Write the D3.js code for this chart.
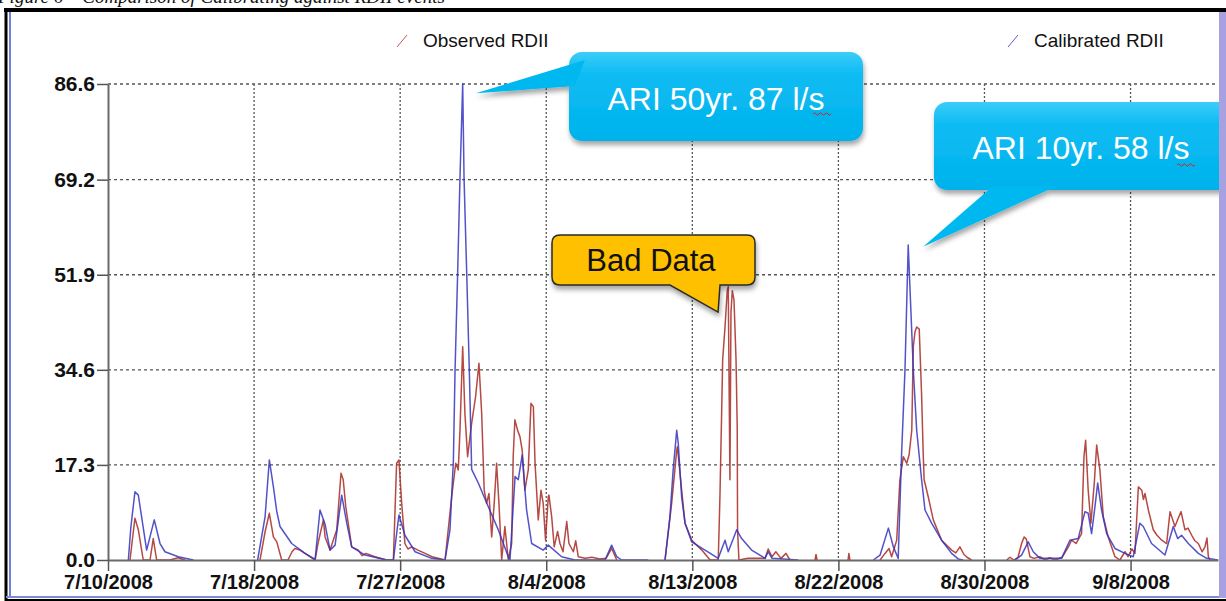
<!doctype html>
<html>
  <head>
    <meta charset="UTF-8"/>
    <title>RDII calibration</title>
    <script src="https://d3js.org/d3.v7.min.js"></script>
    <style>
      body {
          margin: 0;
          padding: 0;
          background: #fff;
      }
      #app_screen {
          width: 1226px;
          height: 601px;
      }
    </style>
  </head>
  <body>
    <section id="app_screen"></section>
    <script>
      // day offsets are counted from 7/10/2008 00:00, null = no reading
      const startDate = new Date(2008, 6, 10);
      const endDay = 65.5;

      const xTickDays = [0, 8.62, 17.24, 25.86, 34.48, 43.1, 51.72, 60.34];
      const yTicks = [0, 17.3, 34.6, 51.9, 69.2, 86.6];

      const seriesNames = ["Observed RDII", "Calibrated RDII"];

      const observedRDII = [
        [1.30,0],[1.45,4],[1.59,7.6],[1.79,5.5],[2.08,0],[2.48,0],[2.67,3.9],[2.87,0],[3.66,0],[4.13,0.4],[4.54,0],[4.6,null],
        [8.97,0],[9.26,5],[9.52,8.5],[9.76,4.2],[9.96,3.3],[10.25,0],[10.62,0],[10.86,1.5],[11.03,2.1],[11.33,1.8],[11.62,1.2],
        [12.22,0],[12.39,3],[12.71,7.3],[12.81,4.2],[13.1,1.8],[13.5,5.5],[13.75,15.8],[13.88,14.6],[14.03,9.7],[14.38,2.4],
        [14.77,1.8],[14.99,0.8],[15.22,1.2],[15.75,0.6],[16.44,0],[16.84,0],[17.03,17.6],[17.17,18.2],[17.33,10.3],[17.52,3.0],
        [17.7,2.0],[17.92,2.4],[18.29,1.8],[18.71,1.2],[19.12,0.6],[19.89,0],[20.28,11.5],[20.52,17.6],[20.67,16.4],[20.77,23.6],
        [20.93,38.8],[21.06,26.7],[21.22,18.8],[21.46,24.9],[21.69,29.7],[21.89,35.8],[22.05,26.7],[22.2,12.7],[22.34,10.3],
        [22.48,12.1],[22.64,4.2],[22.79,10.3],[22.93,17.6],[23.07,10.3],[23.23,0],[23.42,6.1],[23.62,0],[23.82,3.0],[23.91,18.8],
        [24.01,25.5],[24.17,23.6],[24.31,22.4],[24.44,20],[24.6,12.7],[24.8,16.4],[24.96,28.5],[25.1,27.9],[25.2,17.6],[25.39,7.3],
        [25.55,12.7],[25.68,10.3],[25.82,3.6],[25.98,11.5],[26.02,11.8],[26.18,7.9],[26.33,2.4],[26.53,5.2],[26.67,3.0],[26.85,1.5],
        [27.07,7.0],[27.2,3.0],[27.46,1.5],[27.6,3.5],[27.75,0.6],[28.15,0.3],[28.56,0.5],[29.03,0.2],[29.39,0.3],[29.72,2.1],
        [30.02,0],[30.1,null],
        [32.87,0],[33.26,10.3],[33.56,20.0],[33.6,20.6],[33.85,12.7],[34.05,6.7],[34.45,3.6],[35.04,1.8],[35.53,0],[36.01,0],
        [36.11,11.5],[36.21,26.7],[36.27,36.4],[36.41,42.4],[36.54,49],[36.6,49.7],[36.7,14.6],[36.76,45],[36.84,49],[36.94,47.3],
        [37.06,36.4],[37.13,24.2],[37.15,5.5],[37.23,0],[37.76,0.3],[38.77,0.3],[38.96,2.0],[39.18,0.6],[39.41,1.5],[39.71,0.3],
        [40.01,1.2],[40.24,0],[40.3,null],
        [41.72,0],[41.78,1.0],[41.84,0],[41.9,null],
        [43.67,0],[43.72,1.2],[43.78,0],[43.8,null],
        [45.56,0],[45.85,1.2],[46.09,2.1],[46.24,0.6],[46.54,3.6],[46.73,14.6],[46.93,18.8],[47.13,17.6],[47.27,19.1],[47.43,23.6],
        [47.52,38.8],[47.62,41.5],[47.72,42.4],[47.87,42],[48.01,30],[48.11,18.8],[48.16,14.6],[48.4,11.5],[48.7,7.3],[49.19,3.6],
        [49.78,1.8],[50.03,1.3],[50.27,2.4],[50.51,1.0],[50.69,0.5],[50.96,0],[51.0,null],
        [53.03,0],[53.22,0.5],[53.46,0],[53.7,0.5],[53.91,3.0],[54.06,4.2],[54.19,3.8],[54.4,0.6],[54.64,0.3],[54.99,0.6],
        [55.29,0],[55.58,0.4],[55.88,0],[56.3,0.5],[56.67,2.4],[56.86,3.6],[57.12,3.0],[57.45,4.8],[57.59,18.8],[57.69,21.8],
        [57.84,12.7],[58.0,6.7],[58.2,14],[58.34,20.9],[58.53,16.4],[58.73,7.9],[59.02,4.2],[59.42,0.6],[59.71,0],[60.01,1.5],
        [60.19,0.6],[60.42,2.0],[60.6,1.2],[60.8,13.3],[61.0,12.7],[61.1,11.0],[61.19,12.1],[61.39,9.1],[61.68,5.5],[61.9,4.5],
        [62.18,3.6],[62.47,3.0],[62.67,8.8],[62.96,6.1],[63.14,7.5],[63.32,8.8],[63.55,5.5],[63.73,5.8],[63.95,4.5],[64.14,3.5],
        [64.34,3.0],[64.56,1.5],[64.73,2.4],[64.85,4.0],[64.93,0.6],[65.03,0]
      ];

      const calibratedRDII = [
        [1.20,0],[1.35,6],[1.59,12.4],[1.79,11.8],[2.28,1.8],[2.73,7.3],[3.07,3.0],[3.36,1.5],[4.15,0.6],[5.04,0],[5.1,null],
        [8.83,0],[9.27,7.9],[9.52,18.2],[9.76,13.3],[9.96,8.8],[10.15,6.1],[10.84,3.0],[11.63,1.2],[12.22,0.1],[12.51,9.1],
        [12.81,6.5],[13.1,1.8],[13.4,2.7],[13.79,11.8],[14.09,6.7],[14.38,2.4],[15.17,0.9],[16.45,0],[16.84,0],[17.17,8.2],
        [17.52,4.5],[18.12,1.5],[19.1,0.3],[19.89,0],[20.18,5.5],[20.38,18],[20.48,34.6],[20.63,51.9],[20.77,69.5],[20.93,86.6],
        [21.01,69.5],[21.17,51.9],[21.32,34.6],[21.46,16.5],[21.85,14],[22.44,9.7],[23.03,5.5],[23.62,0.6],[23.72,0],[24.02,15.2],
        [24.21,14.6],[24.44,19.1],[24.7,9.1],[25.0,3.0],[25.68,1.8],[25.98,2.7],[26.77,0.6],[27.56,0],[29.33,0],[29.72,2.7],
        [30.02,0.6],[30.31,0],[31.88,0],[31.9,null],
        [32.87,0],[33.16,7.9],[33.35,16.4],[33.56,23.6],[33.65,21.2],[33.85,11.5],[34.05,6.7],[34.44,3.3],[35.23,1.8],[36.01,0.3],
        [36.41,3.6],[36.6,1.5],[37.1,5.5],[37.39,3.9],[37.98,1.8],[38.77,0.3],[38.96,1.5],[39.18,0.3],[40.73,0],[40.8,null],
        [45.16,0],[45.56,0.9],[46.05,5.8],[46.34,2.4],[46.63,0.3],[46.83,19.4],[47.03,34.6],[47.22,57.3],[47.52,34.6],[47.72,23.6],
        [48.01,14.6],[48.21,9.1],[48.6,6.7],[49.19,3.6],[49.78,1.2],[50.17,0.2],[50.45,0],[50.5,null],
        [53.52,0],[53.91,0.9],[54.3,3.3],[54.6,1.5],[54.99,0.3],[56.27,0.3],[56.76,3.6],[57.25,3.9],[57.65,8.8],[57.84,8.5],
        [58.04,4.8],[58.24,9.7],[58.4,14],[58.63,9.1],[58.93,4.8],[59.42,2.1],[60.01,1.2],[60.5,0.6],[60.89,6.7],[61.09,6.1],
        [61.58,3.0],[62.37,0.9],[62.86,6.1],[63.12,3.9],[63.35,4.5],[63.75,3.0],[64.34,1.2],[64.83,0.3],[65.5,0]
      ];

      const calloutTexts = ["ARI 50yr. 87 l/s", "ARI 10yr. 58 l/s", "Bad Data"];

      const W = 1226, H = 601;
      const plotLeft = 108, plotRight = 1218, plotTop = 84, plotBottom = 560;
      const RED = "#ad3530", BLUE = "#3434bf";

      const toDate = d => new Date(startDate.getTime() + d * 864e5);

      const svg = d3.select("#app_screen").append("svg")
        .attr("width", W).attr("height", H)
        .style("font-family", "'Liberation Sans', Arial, sans-serif");

      const defs = svg.append("defs");
      const shadow = defs.append("filter").attr("id", "shadow")
        .attr("x", "-10%").attr("y", "-10%").attr("width", "130%").attr("height", "140%");
      shadow.append("feDropShadow").attr("dx", 1).attr("dy", 4)
        .attr("stdDeviation", 2.5).attr("flood-color", "#000").attr("flood-opacity", 0.35);
      const grad = defs.append("linearGradient").attr("id", "cyan")
        .attr("x1", 0).attr("y1", 0).attr("x2", 0).attr("y2", 1);
      grad.append("stop").attr("offset", "0%").attr("stop-color", "#3cccf8");
      grad.append("stop").attr("offset", "25%").attr("stop-color", "#0dbcf3");
      grad.append("stop").attr("offset", "100%").attr("stop-color", "#00b2ec");

      // caption, cut off by the page edge like in the source scan
      svg.append("text").attr("x", -2).attr("y", 3)
        .style("font-family", "'Liberation Serif', serif").style("font-style", "italic")
        .attr("font-size", 19).attr("fill", "#111")
        .text("Figure 6 \u2013 Comparison of Calibrating against RDII events");

      const x = d3.scaleTime().domain([startDate, toDate(endDay)]).range([plotLeft, plotRight]);
      const y = d3.scaleLinear().domain([0, 86.6]).range([plotBottom, plotTop]);
      const xTickDates = xTickDays.map(toDate);

      // grid
      svg.append("g").selectAll("line").data(yTicks.filter(d => d > 0)).join("line")
        .attr("x1", plotLeft).attr("x2", plotRight)
        .attr("y1", d => y(d)).attr("y2", d => y(d))
        .attr("stroke", "#555").attr("stroke-width", 1.3).attr("stroke-dasharray", "3,3");
      svg.append("g").selectAll("line").data(xTickDates.slice(1)).join("line")
        .attr("x1", d => x(d)).attr("x2", d => x(d))
        .attr("y1", plotTop).attr("y2", plotBottom)
        .attr("stroke", "#555").attr("stroke-width", 1.3).attr("stroke-dasharray", "2,2");

      // series
      const line = d3.line()
        .defined(d => d[1] !== null)
        .x(d => x(toDate(d[0])))
        .y(d => y(d[1]));

      svg.append("path").datum(observedRDII)
        .attr("fill", "none").attr("stroke", RED).attr("stroke-width", 1.5)
        .attr("stroke-linejoin", "round").attr("opacity", 0.9).attr("d", line);
      svg.append("path").datum(calibratedRDII)
        .attr("fill", "none").attr("stroke", BLUE).attr("stroke-width", 1.5)
        .attr("stroke-linejoin", "round").attr("opacity", 0.85).attr("d", line);

      // axes
      const xAxis = svg.append("g").attr("transform", `translate(0,${plotBottom})`)
        .call(d3.axisBottom(x).tickValues(xTickDates).tickSize(11).tickSizeOuter(0)
          .tickPadding(4).tickFormat(d3.timeFormat("%-m/%-d/%Y")));
      const yAxis = svg.append("g").attr("transform", `translate(${plotLeft},0)`)
        .call(d3.axisLeft(y).tickValues(yTicks).tickSize(11).tickSizeOuter(0)
          .tickPadding(2).tickFormat(d3.format(".1f")));
      [xAxis, yAxis].forEach(g => {
        g.select(".domain").attr("stroke", "#6a6a6a").attr("stroke-width", 2);
        g.selectAll(".tick line").attr("stroke", "#555").attr("stroke-width", 1.5);
        g.selectAll(".tick text").attr("fill", "#111")
          .style("font-family", "'Liberation Sans', Arial, sans-serif")
          .attr("font-size", 20).attr("font-weight", "bold");
      });
      yAxis.selectAll(".tick text").attr("font-size", 21);

      // legend
      const legend = [
        {name: seriesNames[0], color: RED, x: 397},
        {name: seriesNames[1], color: BLUE, x: 1008}
      ];
      legend.forEach(l => {
        svg.append("line").attr("x1", l.x).attr("y1", 47).attr("x2", l.x + 10).attr("y2", 35)
          .attr("stroke", l.color).attr("stroke-width", 1).attr("opacity", 0.8);
        svg.append("text").attr("x", l.x + 26).attr("y", 47)
          .attr("font-size", 19).attr("fill", "#111").text(l.name);
      });

      // callouts
      function cyanCallout(box, tip, base, label, tx, ty, squiggle) {
        const g = svg.append("g").attr("filter", "url(#shadow)");
        g.append("rect").attr("x", box[0]).attr("y", box[1]).attr("width", box[2]).attr("height", box[3])
          .attr("rx", 13).attr("fill", "url(#cyan)");
        g.append("path").attr("d", `M${base[0][0]},${base[0][1]}L${tip[0]},${tip[1]}L${base[1][0]},${base[1][1]}Z`)
          .attr("fill", "#06b8f0");
        svg.append("text").attr("x", tx).attr("y", ty).attr("text-anchor", "middle")
          .attr("font-size", 32).attr("fill", "#fff").text(label);
        let p = `M${squiggle[0]},${squiggle[1]}`;
        for (let i = 0; i < 6; i++) p += `q1.5,${i % 2 ? 2.5 : -2.5} 3,0`;
        svg.append("path").attr("d", p).attr("fill", "none").attr("stroke", "#e02020").attr("stroke-width", 1);
      }

      cyanCallout([569, 52, 294, 89], [x(toDate(21.7)), y(84.9)], [[585, 60], [575, 86]],
        calloutTexts[0], 716, 110, [813, 114]);
      cyanCallout([934, 102, 300, 88], [x(toDate(48.1)), y(57)], [[993, 186], [1057, 186]],
        calloutTexts[1], 1081, 159, [1177, 165]);

      // bad data callout
      const tipB = [x(toDate(36.0)), y(45.1)];
      svg.append("path")
        .attr("d", `M560,235H747Q755,235 755,243V277Q755,285 747,285H720L${tipB[0]},${tipB[1]}L670,285H560Q552,285 552,277V243Q552,235 560,235Z`)
        .attr("fill", "#ffc000").attr("stroke", "#2a2a2a").attr("stroke-width", 1.5)
        .attr("filter", "url(#shadow)");
      svg.append("text").attr("x", 651).attr("y", 271).attr("text-anchor", "middle")
        .attr("font-size", 31).attr("fill", "#111").text(calloutTexts[2]);

      // frame
      svg.append("line").attr("x1", 4).attr("x2", W).attr("y1", 10).attr("y2", 10)
        .attr("stroke", "#000").attr("stroke-width", 4);
      svg.append("line").attr("x1", 6).attr("x2", 6).attr("y1", 8).attr("y2", H)
        .attr("stroke", "#000").attr("stroke-width", 3);
      svg.append("line").attr("x1", 10).attr("x2", 10).attr("y1", 12).attr("y2", 597)
        .attr("stroke", "#7080d8").attr("stroke-width", 2);
      svg.append("line").attr("x1", 6).attr("x2", W).attr("y1", 597).attr("y2", 597)
        .attr("stroke", "#8088d8").attr("stroke-width", 2);
      svg.append("line").attr("x1", 6).attr("x2", W).attr("y1", 600).attr("y2", 600)
        .attr("stroke", "#000").attr("stroke-width", 2);
      svg.append("rect").attr("x", 1219).attr("y", 12).attr("width", 7).attr("height", 586)
        .attr("fill", "#a7a1e2");
    </script>
  </body>
</html>
